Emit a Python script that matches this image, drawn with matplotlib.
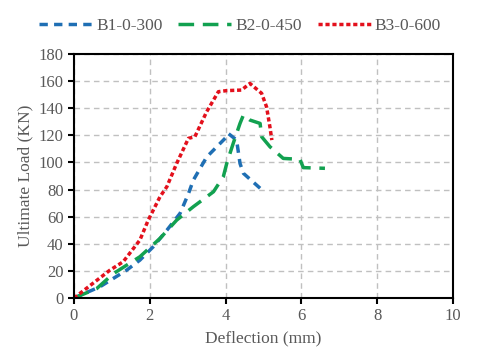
import matplotlib
matplotlib.use("Agg")
import matplotlib.pyplot as plt

plt.rcParams["font.family"] = ["Liberation Serif", "DejaVu Serif"]

# B1-0-300
b1_x = [0, 0.69, 1.39, 1.74, 2.09, 2.45, 2.80, 3.02, 3.15, 3.50, 4.03, 4.07, 4.29, 4.38, 4.47, 4.91]
b1_y = [0, 8.4, 20.6, 28, 37.8, 50, 62.5, 77, 87, 104, 119, 121.4, 116.5, 99.3, 92, 81]

# B2-0-450
b2_x = [0, 0.6, 1.04, 1.74, 2.27, 2.71, 3.15, 3.68, 3.94, 4.03, 4.20, 4.38, 4.47, 4.64, 4.91, 4.95, 5.17, 5.52, 5.96, 6.05, 6.62]
b2_y = [0, 7, 18, 30.5, 44, 57.5, 67.4, 78.4, 89.5, 99.3, 114, 128.8, 135, 131.3, 128.8, 119, 111.6, 103, 102.3, 96.2, 95.7]

# B3-0-600
b3_x = [0, 0.95, 1.30, 1.74, 1.96, 2.27, 2.45, 2.71, 3.02, 3.19, 3.50, 3.81, 4.03, 4.42, 4.64, 4.95, 5.08, 5.17, 5.22]
b3_y = [0, 20.6, 26.8, 42.8, 57.5, 74.7, 82.1, 99.3, 117.8, 119, 137.4, 152.2, 153, 153.4, 158.3, 151, 141, 126, 116.5]

text_color = "#595959"

fig = plt.figure(figsize=(4.8, 3.6), dpi=100)
ax = fig.add_axes([0.154, 0.172, 0.79, 0.678])

ax.plot(b1_x, b1_y, color="#1f6fb4", lw=2.5, linestyle=(0, (2.4, 1.8)), label="B1-0-300")
ax.plot(b2_x, b2_y, color="#12a150", lw=2.5, linestyle=(0, (4.5, 2.5)), label="B2-0-450")
ax.plot(b3_x, b3_y, color="#e3101c", lw=2.5, linestyle=(0, (1.2, 0.8)), label="B3-0-600")

ax.set_xlim(0, 10)
ax.set_ylim(0, 180)
ax.set_xticks(range(0, 11, 2))
ax.set_yticks(range(0, 181, 20))
ax.grid(True, color="#c0c0c0", linestyle=(0, (4, 3)), lw=1)
ax.set_axisbelow(True)
for s in ax.spines.values():
    s.set_linewidth(1.5)
ax.tick_params(axis="both", colors="black", labelcolor=text_color, labelsize=12, length=4, width=1.5)
ax.set_xlabel("Deflection (mm)", fontsize=12.5, color=text_color, labelpad=4)
ax.set_ylabel("Ultimate Load (KN)", fontsize=12.5, color=text_color)

leg = fig.legend(loc="upper center", bbox_to_anchor=(0.5, 0.995), ncol=3, frameon=False,
                 fontsize=12.5, handlelength=3.05, columnspacing=0.92, handletextpad=0.23)
for t in leg.get_texts():
    t.set_color(text_color)

fig.savefig("out.png", dpi=100)
